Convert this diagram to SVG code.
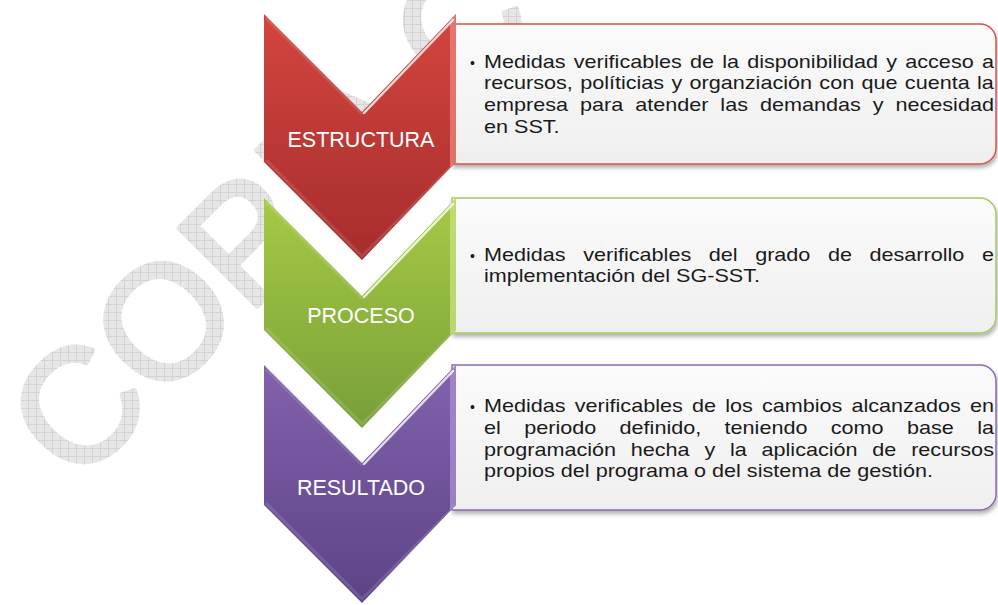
<svg xmlns="http://www.w3.org/2000/svg" width="998" height="605" viewBox="0 0 998 605">
<defs>
<style>
.body{font-family:"Liberation Sans",Arial,sans-serif;font-size:18px;fill:#1a1a1a}
.bul{font-family:"Liberation Sans",Arial,sans-serif;font-size:14px;fill:#1a1a1a}
.label{font-family:"Liberation Sans",Arial,sans-serif;font-size:21.5px;fill:#fff;text-anchor:middle}
.hl{fill:none;stroke:#fff;stroke-width:2.5;stroke-opacity:.8;stroke-linecap:round}
.soft{fill:none;stroke:#fff;stroke-width:3;stroke-opacity:.12}
</style>
<pattern id="grid" width="8" height="8" patternUnits="userSpaceOnUse" patternTransform="rotate(45)">
<rect width="8" height="8" fill="#e6e6e6"/>
<path d="M0,0.5H8M0.5,0V8" stroke="#d3d3d3" stroke-width="1"/>
</pattern>
<linearGradient id="gRed" x1="0" y1="0" x2="0" y2="1"><stop offset="0" stop-color="#d4453f"/><stop offset="1" stop-color="#a52d2c"/></linearGradient>
<linearGradient id="gGreen" x1="0" y1="0" x2="0" y2="1"><stop offset="0" stop-color="#a6ca45"/><stop offset="1" stop-color="#789f38"/></linearGradient>
<linearGradient id="gPurple" x1="0" y1="0" x2="0" y2="1"><stop offset="0" stop-color="#8262ac"/><stop offset="1" stop-color="#5c4386"/></linearGradient>
<linearGradient id="gBox" x1="0" y1="0" x2="0" y2="1"><stop offset="0" stop-color="#fbfbfb"/><stop offset="1" stop-color="#efefef"/></linearGradient>
<filter id="shadow" x="-5%" y="-10%" width="110%" height="130%">
<feDropShadow dx="1" dy="3" stdDeviation="2" flood-color="#000" flood-opacity="0.32"/>
</filter>
</defs>
<rect width="998" height="605" fill="#fff"/>
<g id="watermark">
<text transform="translate(76,488) rotate(-45)" font-family="Liberation Sans, Arial, sans-serif" font-size="162" fill="url(#grid)" stroke="url(#grid)" stroke-width="4" stroke-linejoin="round">COPIA CONTROLADA</text>
</g>
<g id="connectors"/>
<g id="node-estructura">
<path d="M452,24H980A16,16 0 0 1 996,40V148A16,16 0 0 1 980,164H452Z" fill="url(#gBox)" stroke="#d6534e" stroke-width="1.5" filter="url(#shadow)"/>
<path d="M264,14L362,112L456,14V162L362,260L264,162Z" fill="url(#gRed)"/>
<path d="M450,20L456,14V162L450,167Z" fill="#e8817c" opacity=".8"/>
<line class="hl" x1="364" y1="113" x2="453" y2="20"/>
<path class="soft" d="M266,18L362,114M266,160L362,256L454,164"/>
<text class="label" x="361" y="146.5">ESTRUCTURA</text>
<text class="bul" x="470" y="67.5">•</text>
<text class="body" transform="translate(484,67.5) scale(1.2,1)" word-spacing="1.83">Medidas verificables de la disponibilidad y acceso a</text>
<text class="body" transform="translate(484,89.3) scale(1.2,1)" word-spacing="1.11">recursos, políticias y organziación con que cuenta la</text>
<text class="body" transform="translate(484,111.1) scale(1.2,1)" word-spacing="4.97">empresa para atender las demandas y necesidad</text>
<text class="body" transform="translate(484,132.9) scale(1.2,1)">en SST.</text>
</g>
<g id="node-proceso">
<path d="M452,198H980A16,16 0 0 1 996,214V317A16,16 0 0 1 980,333H452Z" fill="url(#gBox)" stroke="#a8c95c" stroke-width="1.5" filter="url(#shadow)"/>
<path d="M264,198L362,296L456,198V330L362,428L264,330Z" fill="url(#gGreen)"/>
<path d="M450,204L456,198V330L450,335Z" fill="#c6e07c" opacity=".8"/>
<line class="hl" x1="364" y1="297" x2="453" y2="204"/>
<path class="soft" d="M266,202L362,298M266,328L362,424L454,332"/>
<text class="label" x="361" y="322.7">PROCESO</text>
<text class="bul" x="470" y="260.5">•</text>
<text class="body" transform="translate(484,260.5) scale(1.2,1)" word-spacing="9.64">Medidas verificables del grado de desarrollo e</text>
<text class="body" transform="translate(484,282.3) scale(1.2,1)">implementación del SG-SST.</text>
</g>
<g id="node-resultado">
<path d="M452,365H980A16,16 0 0 1 996,381V494A16,16 0 0 1 980,510H452Z" fill="url(#gBox)" stroke="#8b69b2" stroke-width="1.5" filter="url(#shadow)"/>
<path d="M264,365L362,463L456,365V505L362,603L264,505Z" fill="url(#gPurple)"/>
<path d="M450,371L456,365V505L450,510Z" fill="#a98cce" opacity=".8"/>
<line class="hl" x1="364" y1="464" x2="453" y2="371"/>
<path class="soft" d="M266,369L362,465M266,503L362,599L454,507"/>
<text class="label" x="361" y="495">RESULTADO</text>
<text class="bul" x="470" y="412">•</text>
<text class="body" transform="translate(484,412) scale(1.2,1)" word-spacing="2.64">Medidas verificables de los cambios alcanzados en</text>
<text class="body" transform="translate(484,433.8) scale(1.2,1)" word-spacing="14.47">el periodo definido, teniendo como base la</text>
<text class="body" transform="translate(484,455.6) scale(1.2,1)" word-spacing="7.31">programación hecha y la aplicación de recursos</text>
<text class="body" transform="translate(484,477.4) scale(1.2,1)">propios del programa o del sistema de gestión.</text>
</g>
</svg>
